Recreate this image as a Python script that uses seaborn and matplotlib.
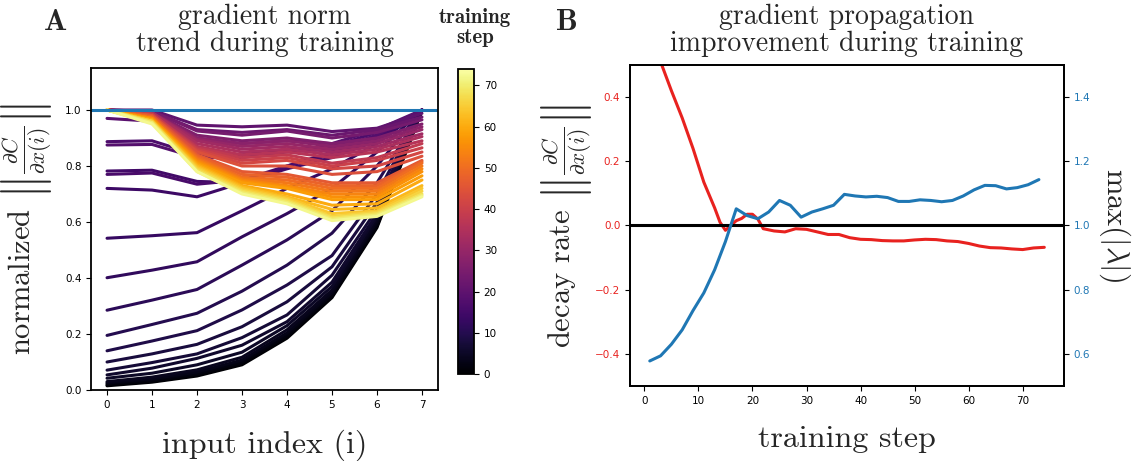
import numpy as np
import pandas as pd
import seaborn as sns
import matplotlib.pyplot as plt
from matplotlib.colors import Normalize
from matplotlib.cm import ScalarMappable

# panel A: normalized gradient norm per input index, one curve per training step
input_index = [0, 1, 2, 3, 4, 5, 6, 7]
curve_steps = [0, 1, 2, 3, 4, 5, 6, 7, 8, 9, 10, 11, 12, 13, 14, 15, 16, 17, 18, 19,
               20, 22, 24, 26, 28, 30, 32, 34, 36, 38, 40, 42, 44, 46, 48, 50, 52, 54,
               56, 58, 60, 62, 64, 66, 68, 70, 72]
curve_values = [
    [0.015, 0.028, 0.050, 0.090, 0.185, 0.330, 0.580, 1.0],
    [0.018, 0.031, 0.054, 0.095, 0.190, 0.335, 0.585, 1.0],
    [0.022, 0.035, 0.058, 0.100, 0.196, 0.340, 0.590, 1.0],
    [0.026, 0.040, 0.064, 0.107, 0.204, 0.348, 0.600, 1.0],
    [0.030, 0.046, 0.072, 0.117, 0.215, 0.357, 0.610, 1.0],
    [0.042, 0.060, 0.090, 0.135, 0.230, 0.370, 0.620, 1.0],
    [0.054, 0.078, 0.113, 0.160, 0.244, 0.385, 0.630, 1.0],
    [0.071, 0.098, 0.129, 0.187, 0.268, 0.410, 0.645, 1.0],
    [0.100, 0.129, 0.163, 0.226, 0.315, 0.440, 0.670, 1.0],
    [0.140, 0.175, 0.212, 0.286, 0.375, 0.480, 0.700, 1.0],
    [0.195, 0.234, 0.274, 0.353, 0.446, 0.560, 0.740, 1.0],
    [0.285, 0.321, 0.359, 0.446, 0.536, 0.640, 0.800, 1.0],
    [0.401, 0.428, 0.458, 0.547, 0.630, 0.720, 0.850, 1.0],
    [0.542, 0.551, 0.562, 0.640, 0.720, 0.790, 0.880, 1.0],
    [0.720, 0.714, 0.690, 0.740, 0.800, 0.850, 0.910, 1.0],
    [0.782, 0.785, 0.745, 0.740, 0.790, 0.830, 0.890, 1.0],
    [0.770, 0.775, 0.735, 0.750, 0.800, 0.840, 0.900, 1.0],
    [0.887, 0.890, 0.840, 0.840, 0.860, 0.870, 0.920, 1.0],
    [0.875, 0.877, 0.830, 0.830, 0.850, 0.860, 0.910, 1.0],
    [0.970, 0.960, 0.900, 0.880, 0.890, 0.880, 0.930, 1.0],
    [1.0, 1.000, 0.946, 0.940, 0.946, 0.923, 0.935, 0.988],
    [1.0, 0.995, 0.930, 0.920, 0.930, 0.910, 0.930, 0.975],
    [1.0, 0.995, 0.925, 0.910, 0.925, 0.900, 0.920, 0.965],
    [1.0, 0.990, 0.910, 0.890, 0.900, 0.880, 0.900, 0.950],
    [1.0, 0.990, 0.900, 0.880, 0.890, 0.870, 0.890, 0.940],
    [1.0, 0.990, 0.895, 0.870, 0.880, 0.860, 0.880, 0.930],
    [1.0, 0.990, 0.890, 0.860, 0.870, 0.850, 0.870, 0.915],
    [1.0, 0.990, 0.880, 0.850, 0.860, 0.840, 0.860, 0.905],
    [1.0, 0.985, 0.870, 0.840, 0.850, 0.830, 0.850, 0.890],
    [1.0, 0.985, 0.865, 0.830, 0.840, 0.810, 0.830, 0.880],
    [1.0, 0.985, 0.860, 0.820, 0.830, 0.800, 0.820, 0.865],
    [1.0, 0.980, 0.855, 0.810, 0.820, 0.790, 0.800, 0.850],
    [1.0, 0.980, 0.850, 0.800, 0.800, 0.770, 0.780, 0.835],
    [1.0, 0.980, 0.840, 0.780, 0.770, 0.740, 0.740, 0.820],
    [1.0, 0.975, 0.835, 0.770, 0.760, 0.730, 0.730, 0.815],
    [1.0, 0.975, 0.830, 0.760, 0.750, 0.720, 0.720, 0.810],
    [1.0, 0.970, 0.825, 0.755, 0.740, 0.710, 0.710, 0.800],
    [1.0, 0.970, 0.820, 0.750, 0.730, 0.700, 0.700, 0.790],
    [1.0, 0.970, 0.815, 0.745, 0.725, 0.690, 0.690, 0.780],
    [1.0, 0.965, 0.810, 0.740, 0.720, 0.680, 0.680, 0.765],
    [1.0, 0.965, 0.805, 0.730, 0.700, 0.660, 0.665, 0.750],
    [1.0, 0.960, 0.800, 0.725, 0.690, 0.645, 0.650, 0.730],
    [1.0, 0.960, 0.795, 0.720, 0.685, 0.630, 0.640, 0.720],
    [1.0, 0.960, 0.790, 0.715, 0.680, 0.620, 0.635, 0.710],
    [1.0, 0.955, 0.785, 0.710, 0.675, 0.615, 0.630, 0.700],
    [1.0, 0.955, 0.780, 0.705, 0.670, 0.610, 0.625, 0.695],
    [1.0, 0.950, 0.780, 0.700, 0.665, 0.605, 0.620, 0.690],
]

# panel B: decay rate (left axis) and max |lambda| (right axis)
decay_steps = [1, 3, 5, 7, 9, 11, 13, 14, 15, 16, 17, 18, 19, 20, 21, 22, 24, 26, 28,
               30, 32, 34, 36, 38, 40, 42, 44, 46, 48, 50, 52, 54, 56, 58, 60, 62, 64,
               66, 68, 70, 72, 74]
decay_rate = [0.61, 0.51, 0.42, 0.335, 0.24, 0.135, 0.055, 0.01, -0.015, 0.0, 0.015,
              0.022, 0.035, 0.035, 0.02, -0.01, -0.017, -0.02, -0.01, -0.012, -0.02,
              -0.028, -0.028, -0.038, -0.043, -0.044, -0.047, -0.048, -0.048, -0.045,
              -0.043, -0.044, -0.048, -0.05, -0.056, -0.064, -0.069, -0.07, -0.073,
              -0.075, -0.07, -0.068]
lam_steps = [1, 3, 5, 7, 9, 11, 13, 15, 17, 19, 21, 23, 25, 27, 29, 31, 33, 35, 37,
             39, 41, 43, 45, 47, 49, 51, 53, 55, 57, 59, 61, 63, 65, 67, 69, 71, 73]
max_lambda = [0.578, 0.594, 0.630, 0.675, 0.735, 0.790, 0.862, 0.950, 1.052, 1.031,
              1.021, 1.042, 1.078, 1.063, 1.026, 1.042, 1.052, 1.063, 1.097, 1.092,
              1.089, 1.091, 1.087, 1.075, 1.075, 1.080, 1.078, 1.074, 1.078, 1.092,
              1.111, 1.125, 1.124, 1.114, 1.118, 1.127, 1.143]

sns.set_style("ticks")
plt.rcParams['font.family'] = ['DejaVu Sans']
plt.rcParams['mathtext.fontset'] = 'cm'
plt.rcParams['axes.edgecolor'] = 'black'
plt.rcParams['axes.linewidth'] = 1.3
plt.rcParams['xtick.color'] = 'black'
plt.rcParams['ytick.color'] = 'black'
plt.rcParams['xtick.labelsize'] = 7.5
plt.rcParams['ytick.labelsize'] = 7.5

SERIF = 'cmr10'
BOLD = 'cmb10'
RED = '#e8221f'
BLUE = '#1f77b4'

rows = []
for s, vals in zip(curve_steps, curve_values):
    for i, v in zip(input_index, vals):
        rows.append({'step': s, 'index': i, 'value': v})
df = pd.DataFrame(rows)

fig = plt.figure(figsize=(11.34, 4.61), dpi=100)
axA = fig.add_axes([0.0805, 0.154, 0.3055, 0.6985])
cax = fig.add_axes([0.4039, 0.1887, 0.0141, 0.6616])
axB = fig.add_axes([0.5556, 0.1627, 0.3827, 0.6963])

norm = Normalize(0, 74)
sns.lineplot(data=df, x='index', y='value', hue='step', palette='inferno',
             hue_norm=norm, legend=False, linewidth=2.2, ax=axA)
axA.axhline(1.0, color=BLUE, lw=2.2)
axA.set_ylim(0, 1.15)
axA.set_xticks(input_index)
axA.set_yticks([0.0, 0.2, 0.4, 0.6, 0.8, 1.0])
axA.set_xlabel('input index (i)', fontfamily=SERIF, fontsize=23, labelpad=14)
axA.set_ylabel(r'normalized $\left\|\frac{\partial C}{\partial x(i)}\right\|$',
               fontfamily=SERIF, fontsize=22, labelpad=8)
axA.set_title('gradient norm\ntrend during training', fontfamily=SERIF,
              fontsize=20, pad=12, linespacing=1.05)

cb = fig.colorbar(ScalarMappable(norm=norm, cmap='inferno'), cax=cax)
cb.set_ticks([0, 10, 20, 30, 40, 50, 60, 70])
cb.ax.tick_params(labelsize=7.5)
cb.outline.set_linewidth(1.3)
fig.text(0.419, 0.94, 'training\nstep', fontfamily=BOLD, fontsize=15,
         ha='center', va='center', linespacing=1.05)

sns.lineplot(x=decay_steps, y=decay_rate, color=RED, linewidth=2.2, ax=axB)
axB.axhline(0.0, color='black', lw=2.2)
axB.set_ylim(-0.5, 0.5)
axB.set_yticks([-0.4, -0.2, 0.0, 0.2, 0.4])
axB.tick_params(axis='y', labelcolor=RED)
axB.set_xlabel('training step', fontfamily=SERIF, fontsize=23, labelpad=14)
axB.set_ylabel(r'decay rate $\left\|\frac{\partial C}{\partial x(i)}\right\|$',
               fontfamily=SERIF, fontsize=22, labelpad=1)
axB.set_title('gradient propagation\nimprovement during training', fontfamily=SERIF,
              fontsize=20, pad=10, linespacing=1.05)

axB2 = axB.twinx()
sns.lineplot(x=lam_steps, y=max_lambda, color=BLUE, linewidth=2.2, ax=axB2)
axB2.set_ylim(0.5, 1.5)
axB2.set_yticks([0.6, 0.8, 1.0, 1.2, 1.4])
axB2.tick_params(axis='y', labelcolor=BLUE)
axB2.set_ylabel(r'max$(|\lambda|)$', fontfamily=SERIF, fontsize=22,
                rotation=270, labelpad=30)

fig.text(0.0485, 0.952, 'A', fontfamily=BOLD, fontsize=22, ha='center', va='center')
fig.text(0.5, 0.952, 'B', fontfamily=BOLD, fontsize=22, ha='center', va='center')

fig.savefig('out.png', dpi=100)
